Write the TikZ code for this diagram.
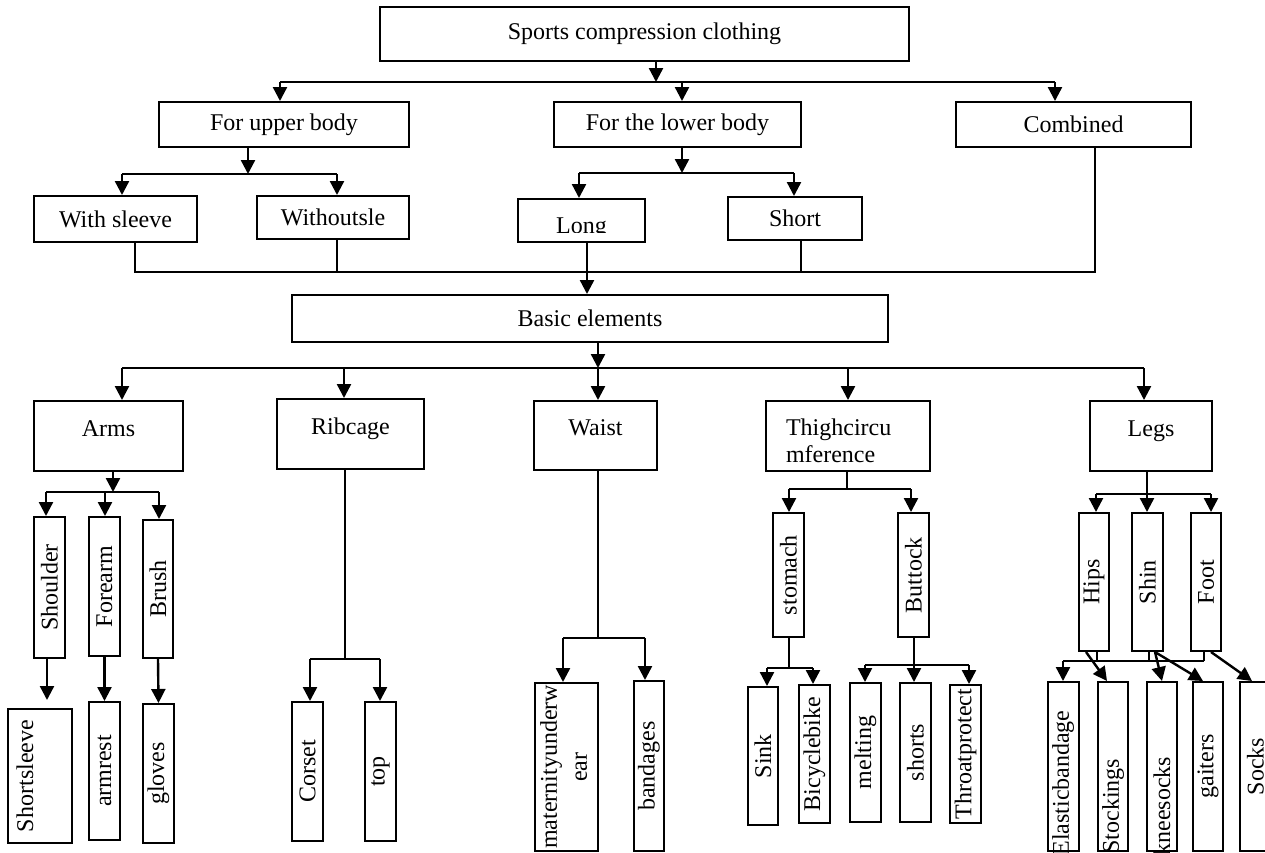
\documentclass[tikz,border=0pt]{standalone}
\usepackage{fontspec}
\setmainfont{Liberation Serif}
\usetikzlibrary{arrows.meta}

\newcommand{\boxfont}{\fontsize{24}{27}\selectfont}
\newcommand{\vt}[1]{\rotatebox{90}{#1}}

\begin{document}
\begin{tikzpicture}[x=1pt, y=-1pt,
      box/.style    = {rectangle, draw=black, line width=2pt, inner sep=0pt,
                       font=\boxfont, align=center},
      topbox/.style = {box, text height=14pt, text depth=14pt},
      vtext/.style  = {font=\boxfont, inner sep=0pt},
      arrow/.style  = {-{Triangle[length=14pt,width=14pt]}, line width=2.4pt},
      link/.style   = {line width=2pt}
    ]
    \useasboundingbox (0,0) rectangle (1265,852);
    \clip (0,0) rectangle (1265,852);
    \fill[white] (0,0) rectangle (1265,852);

    % upper part
    \node[box, minimum width=529pt, minimum height=54pt] (sports) at (644.5,34) {Sports compression clothing};
    \node[box, minimum width=250pt, minimum height=45pt] (upper) at (284,124.5) {For upper body};
    \node[box, minimum width=247pt, minimum height=45pt] (lower) at (677.5,124.5) {For the lower body};
    \node[box, minimum width=235pt, minimum height=45pt] (comb) at (1073.5,124.5) {Combined};

    \node[box, minimum width=163pt, minimum height=46pt] (sleeve) at (115.5,219) {With sleeve};
    \node[box, minimum width=152pt, minimum height=43pt] (nosleeve) at (333,217.5) {Withoutsle};
    \node[box, minimum width=127pt, minimum height=43pt] (long) at (581.5,220.5) {};
    \begin{scope}
      \clip (518,199) rectangle (645,232);
      \node[vtext, anchor=base] (longtxt) at (581.5,233) {Long};
    \end{scope}
    \node[box, minimum width=134pt, minimum height=43pt] (short) at (795,218.5) {Short};

    \node[box, minimum width=596pt, minimum height=47pt] (basic) at (590,318.5) {Basic elements};

    % basic elements
    \node[topbox, minimum width=149pt, minimum height=70pt] (arms) at (108.5,436) {Arms};
    \node[topbox, minimum width=147pt, minimum height=70pt] (rib) at (350.5,434) {Ribcage};
    \node[topbox, minimum width=123pt, minimum height=69pt] (waist) at (595.5,435.5) {Waist};
    \node[box, minimum width=164pt, minimum height=70pt] (thigh) at (848,436) {};
    \node[vtext, text width=124pt, align=left] (thightxt) at (848,441) {Thighcircu\\mference};
    \node[topbox, minimum width=122pt, minimum height=70pt] (legs) at (1151,436) {Legs};

    % arms
    \node[box, minimum width=31pt, minimum height=141pt] (shoulder) at (49.5,587.5) {\vt{Shoulder}};
    \node[box, minimum width=31pt, minimum height=139pt] (forearm) at (104.5,586.5) {\vt{Forearm}};
    \node[box, minimum width=30pt, minimum height=138pt] (brush) at (158,589) {\vt{Brush}};
    \node[box, minimum width=64pt, minimum height=134pt] (ssl) at (40,776) {};
    \node[vtext] (ssltxt) at (25,776) {\vt{Shortsleeve}};
    \node[box, minimum width=31pt, minimum height=138pt] (armrest) at (104.5,771) {\vt{armrest}};
    \node[box, minimum width=31pt, minimum height=139pt] (gloves) at (158.5,773.5) {\vt{gloves}};

    % ribcage
    \node[box, minimum width=31pt, minimum height=139pt] (corset) at (307.5,771.5) {\vt{Corset}};
    \node[box, minimum width=31pt, minimum height=139pt] (topw) at (380.5,771.5) {\vt{top}};

    % waist
    \node[box, minimum width=63pt, minimum height=168pt] (mat) at (566.5,767)
      {\vt{\begin{tabular}{@{}c@{}}maternityunderw\\[3pt]ear\end{tabular}}};
    \node[box, minimum width=30pt, minimum height=170pt] (band) at (649,766) {\vt{bandages}};

    % thigh
    \node[box, minimum width=31pt, minimum height=124pt] (stomach) at (788.5,575) {\vt{stomach}};
    \node[box, minimum width=31pt, minimum height=124pt] (buttock) at (913.5,575) {\vt{Buttock}};
    \node[box, minimum width=30pt, minimum height=138pt] (sink) at (763,756) {\vt{Sink}};
    \node[box, minimum width=31pt, minimum height=138pt] (bike) at (814.5,754) {\vt{Bicyclebike}};
    \node[box, minimum width=31pt, minimum height=139pt] (melt) at (865.5,752.5) {\vt{melting}};
    \node[box, minimum width=31pt, minimum height=139pt] (shorts) at (915.5,752.5) {\vt{shorts}};
    \node[box, minimum width=31pt, minimum height=138pt] (throat) at (965.5,754) {\vt{Throatprotect}};

    % legs
    \node[box, minimum width=30pt, minimum height=138pt] (hips) at (1094,582) {\vt{Hips}};
    \node[box, minimum width=31pt, minimum height=138pt] (shin) at (1147.5,582) {\vt{Shin}};
    \node[box, minimum width=30pt, minimum height=138pt] (foot) at (1206,582) {\vt{Foot}};
    \node[box, minimum width=31pt, minimum height=169pt] (elastic) at (1063.5,766.5) {};
    \node[vtext] (elastictxt) at (1063,783) {\vt{Elasticbandage}};
    \node[box, minimum width=30pt, minimum height=169pt] (stock) at (1113,766.5) {};
    \node[vtext] (stocktxt) at (1113,806) {\vt{Stockings}};
    \node[box, minimum width=30pt, minimum height=169pt] (knee) at (1162,766.5) {};
    \node[vtext] (kneetxt) at (1162,806) {\vt{kneesocks}};
    \node[box, minimum width=30pt, minimum height=169pt] (gait) at (1208,766.5) {\vt{gaiters}};
    \node[box, minimum width=31pt, minimum height=169pt] (socks) at (1255.5,766.5) {\vt{Socks}};

    % connectors, top
    \coordinate (t0) at (656,82);
    \coordinate (t1) at (280,82);
    \coordinate (t2) at (682,82);
    \coordinate (t3) at (1055,82);
    \draw[link] (t1) -- (t3);
    \draw[arrow] (sports.south -| t0) -- (t0);
    \draw[arrow] (t1) -- (upper.north -| t1);
    \draw[arrow] (t2) -- (lower.north -| t2);
    \draw[arrow] (t3) -- (comb.north -| t3);

    \coordinate (u0) at (248,174);
    \coordinate (u1) at (122,174);
    \coordinate (u2) at (337,174);
    \draw[link] (u1) -- (u2);
    \draw[arrow] (upper.south -| u0) -- (u0);
    \draw[arrow] (u1) -- (sleeve.north -| u1);
    \draw[arrow] (u2) -- (nosleeve.north -| u2);

    \coordinate (l0) at (682,173);
    \coordinate (l1) at (579,173);
    \coordinate (l2) at (794,173);
    \draw[link] (l1) -- (l2);
    \draw[arrow] (lower.south -| l0) -- (l0);
    \draw[arrow] (l1) -- (long.north -| l1);
    \draw[arrow] (l2) -- (short.north -| l2);

    \coordinate (c1) at (135,272);
    \coordinate (c2) at (337,272);
    \coordinate (c3) at (587,272);
    \coordinate (c4) at (801,272);
    \coordinate (c5) at (1095,272);
    \draw[link] (sleeve.south -| c1) -- (c1) -- (c5) -- (comb.south -| c5);
    \draw[link] (nosleeve.south -| c2) -- (c2);
    \draw[link] (short.south -| c4) -- (c4);
    \draw[arrow] (long.south -| c3) -- (basic.north -| c3);

    % connectors, basic elements
    \coordinate (b0) at (598,368);
    \coordinate (b1) at (122,368);
    \coordinate (b2) at (344,368);
    \coordinate (b3) at (848,368);
    \coordinate (b4) at (1144,368);
    \draw[link] (b1) -- (b4);
    \draw[arrow] (basic.south -| b0) -- (b0);
    \draw[arrow] (b1) -- (arms.north -| b1);
    \draw[arrow] (b2) -- (rib.north -| b2);
    \draw[arrow] (b0) -- (waist.north -| b0);
    \draw[arrow] (b3) -- (thigh.north -| b3);
    \draw[arrow] (b4) -- (legs.north -| b4);

    % arms
    \coordinate (a0) at (113,492);
    \coordinate (a1) at (46,492);
    \coordinate (a2) at (105,492);
    \coordinate (a3) at (159,492);
    \coordinate (a4) at (47,700);
    \draw[link] (a1) -- (a3);
    \draw[arrow] (arms.south -| a0) -- (a0);
    \draw[arrow] (a1) -- (shoulder.north -| a1);
    \draw[arrow] (a2) -- (forearm.north -| a2);
    \draw[arrow] (a3) -- (brush.north -| a3);
    \draw[arrow] (shoulder.south -| a4) -- (a4);
    \draw[arrow] (forearm.south) -- (armrest.north);
    \draw[arrow] (brush.south) -- (gloves.north);

    % ribcage
    \coordinate (r0) at (345,659);
    \coordinate (r1) at (310,659);
    \coordinate (r2) at (380,659);
    \draw[link] (rib.south -| r0) -- (r0);
    \draw[link] (r1) -- (r2);
    \draw[arrow] (r1) -- (corset.north -| r1);
    \draw[arrow] (r2) -- (topw.north -| r2);

    % waist
    \coordinate (w0) at (598,638);
    \coordinate (w1) at (563,638);
    \coordinate (w2) at (645,638);
    \draw[link] (waist.south -| w0) -- (w0);
    \draw[link] (w1) -- (w2);
    \draw[arrow] (w1) -- (mat.north -| w1);
    \draw[arrow] (w2) -- (band.north -| w2);

    % thigh circumference
    \coordinate (h0) at (847,489);
    \coordinate (h1) at (789,489);
    \coordinate (h2) at (911,489);
    \draw[link] (thigh.south -| h0) -- (h0);
    \draw[link] (h1) -- (h2);
    \draw[arrow] (h1) -- (stomach.north -| h1);
    \draw[arrow] (h2) -- (buttock.north -| h2);

    \coordinate (s0) at (789,668);
    \coordinate (s1) at (767,668);
    \coordinate (s2) at (813,668);
    \draw[link] (stomach.south -| s0) -- (s0);
    \draw[link] (s1) -- (s2);
    \draw[arrow] (s1) -- (sink.north -| s1);
    \draw[arrow] (s2) -- (bike.north -| s2);

    \coordinate (k0) at (914,665);
    \coordinate (k1) at (865,665);
    \coordinate (k2) at (969,665);
    \draw[link] (buttock.south -| k0) -- (k0);
    \draw[link] (k1) -- (k2);
    \draw[arrow] (k1) -- (melt.north -| k1);
    \draw[arrow] (k0) -- (shorts.north -| k0);
    \draw[arrow] (k2) -- (throat.north -| k2);

    % legs
    \coordinate (e0) at (1147,494);
    \coordinate (e1) at (1096,494);
    \coordinate (e2) at (1211,494);
    \draw[link] (legs.south -| e0) -- (e0);
    \draw[link] (e1) -- (e2);
    \draw[arrow] (e1) -- (hips.north -| e1);
    \draw[arrow] (e0) -- (shin.north -| e0);
    \draw[arrow] (e2) -- (foot.north -| e2);

    \coordinate (g0) at (1063,661);
    \coordinate (g1) at (1204,661);
    \coordinate (g2) at (1097,661);
    \coordinate (g3) at (1149,661);
    \draw[link] (g0) -- (g1);
    \draw[link] (hips.south -| g2) -- (g2);
    \draw[link] (shin.south -| g3) -- (g3);
    \draw[link] (foot.south -| g1) -- (g1);
    \draw[arrow] (g0) -- (elastic.north -| g0);
    \draw[arrow] ([xshift=-8pt]hips.south) -- ([xshift=-6pt]stock.north);
    \draw[arrow] ([xshift=7.5pt]shin.south) -- (knee.north);
    \draw[arrow] ([xshift=7.5pt]shin.south) -- ([xshift=-5pt]gait.north);
    \draw[arrow] ([xshift=5pt]foot.south) -- ([xshift=-3.5pt]socks.north);
  \end{tikzpicture}
\end{document}
